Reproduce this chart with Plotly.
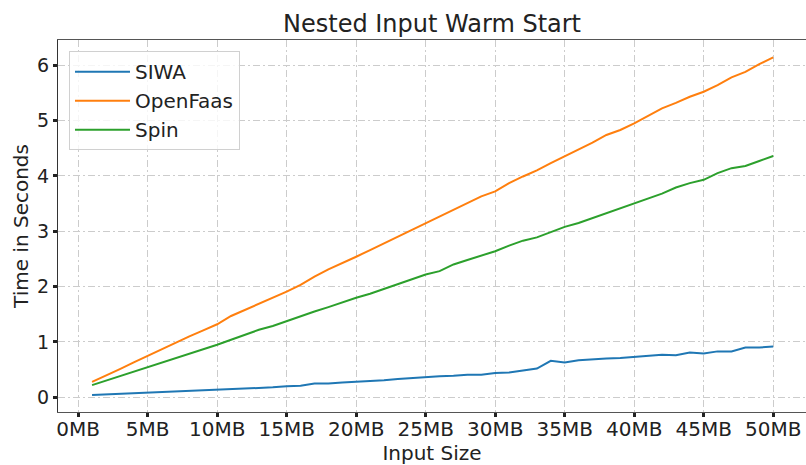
import plotly.graph_objects as go

sizes_mb = list(range(1, 51))

siwa = [0.04, 0.05, 0.06, 0.07, 0.09, 0.10, 0.11, 0.12, 0.13, 0.14,
        0.15, 0.16, 0.17, 0.18, 0.20, 0.21, 0.25, 0.25, 0.27, 0.28,
        0.29, 0.31, 0.33, 0.35, 0.37, 0.38, 0.39, 0.41, 0.41, 0.44,
        0.45, 0.49, 0.52, 0.66, 0.63, 0.67, 0.69, 0.70, 0.71, 0.73,
        0.74, 0.77, 0.76, 0.81, 0.79, 0.83, 0.83, 0.90, 0.90, 0.92]

openfaas = [0.28, 0.39, 0.51, 0.63, 0.75, 0.86, 0.98, 1.10, 1.21, 1.32,
            1.47, 1.58, 1.68, 1.79, 1.91, 2.03, 2.18, 2.31, 2.42, 2.54,
            2.66, 2.78, 2.90, 3.02, 3.14, 3.27, 3.39, 3.50, 3.63, 3.72,
            3.87, 3.99, 4.10, 4.23, 4.35, 4.47, 4.60, 4.74, 4.83, 4.95,
            5.08, 5.22, 5.32, 5.43, 5.52, 5.64, 5.78, 5.88, 6.02, 6.14]

spin = [0.22, 0.30, 0.38, 0.46, 0.54, 0.62, 0.70, 0.79, 0.87, 0.95,
        1.04, 1.13, 1.22, 1.29, 1.38, 1.46, 1.55, 1.63, 1.72, 1.80,
        1.87, 1.96, 2.05, 2.13, 2.22, 2.28, 2.40, 2.48, 2.56, 2.64,
        2.74, 2.83, 2.89, 2.99, 3.08, 3.15, 3.24, 3.33, 3.42, 3.50,
        3.59, 3.68, 3.79, 3.87, 3.93, 4.05, 4.14, 4.18, 4.27, 4.36]

series = [("SIWA", siwa, "#1f77b4"),
          ("OpenFaas", openfaas, "#ff7f0e"),
          ("Spin", spin, "#2ca02c")]

x_ticks = list(range(0, 51, 5))
x_tick_text = [f"{v}MB" for v in x_ticks]
y_ticks = [0, 1, 2, 3, 4, 5, 6]

FONT = "DejaVu Sans"
GRID_DASH = "7px,3px,2px,3px"

fig = go.Figure()
for name, vals, color in series:
    fig.add_trace(go.Scatter(x=sizes_mb, y=vals, mode="lines", name=name,
                             line=dict(color=color, width=2)))

fig.update_layout(
    width=806, height=465,
    margin=dict(l=58, r=0, t=40, b=53),
    paper_bgcolor="white", plot_bgcolor="white",
    font=dict(family=FONT, color="#222222"),
    title=dict(text="Nested Input Warm Start", x=0.536, xanchor="center",
               y=0.950, yanchor="middle",
               font=dict(size=24, family=FONT, color="#222222")),
    showlegend=True,
    legend=dict(x=0.0147, y=0.97, xanchor="left", yanchor="top",
                bgcolor="rgba(255,255,255,0.8)", bordercolor="#d0d0d0",
                borderwidth=1, font=dict(size=20, family=FONT, color="#222222"),
                tracegroupgap=0, itemwidth=55),
    xaxis=dict(range=[-1.45, 52.36], tickmode="array", tickvals=x_ticks,
               ticktext=x_tick_text, tickfont=dict(size=20, family=FONT, color="#222222"),
               ticks="outside", ticklen=4, tickwidth=2.5, tickcolor="#222222",
               ticklabelstandoff=-5,
               showline=True, linecolor="#555555", linewidth=1.3, mirror=True,
               showgrid=True, gridcolor="#cccccc", gridwidth=1, griddash=GRID_DASH,
               zeroline=False,
               title=dict(text="Input Size", font=dict(size=20, family=FONT, color="#222222"),
                          standoff=5)),
    yaxis=dict(range=[-0.265, 6.455], tickmode="array", tickvals=y_ticks,
               tickfont=dict(size=19, family=FONT, color="#222222"),
               ticks="outside", ticklen=4, tickwidth=2.5, tickcolor="#222222",
               showline=True, linecolor="#333333", linewidth=1.3, mirror=False,
               showgrid=True, gridcolor="#cccccc", gridwidth=1, griddash=GRID_DASH,
               zeroline=False,
               title=dict(text="Time in Seconds", font=dict(size=20, family=FONT, color="#222222"),
                          standoff=2)),
)

fig.write_html("out.html")
